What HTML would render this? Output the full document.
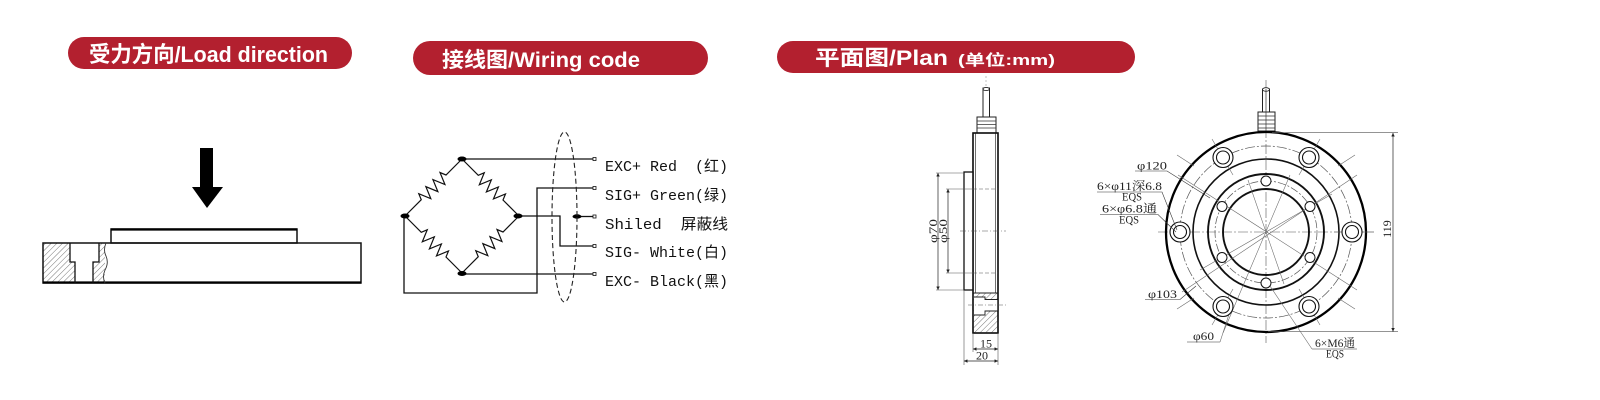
<!DOCTYPE html>
<html><head><meta charset="utf-8">
<style>
html,body{margin:0;padding:0;background:#fff;}
svg{display:block;}
.ht{font-family:"Liberation Sans","Noto Sans CJK SC",sans-serif;font-weight:bold;fill:#fff;}
.wl{font-family:"Liberation Mono","Noto Sans CJK SC",monospace;font-size:15px;fill:#111;white-space:pre;}
.dt{font-family:"Liberation Serif","Noto Serif CJK SC",serif;font-size:12px;fill:#222;}
</style></head><body>
<svg width="1600" height="400" viewBox="0 0 1600 400" xmlns="http://www.w3.org/2000/svg">
<defs>
<pattern id="h" width="4" height="4" patternUnits="userSpaceOnUse" patternTransform="rotate(45)">
<line x1="0" y1="0" x2="0" y2="4" stroke="#555" stroke-width="0.8"/>
</pattern>
<marker id="ar" viewBox="0 0 10 10" refX="10" refY="5" markerWidth="6" markerHeight="3.5" orient="auto-start-reverse" markerUnits="userSpaceOnUse">
<path d="M0,0 L10,5 L0,10 z" fill="#222"/>
</marker>
<path id="zz" d="M0,0 L23,0 L25.5,-6 L30.5,6 L35.5,-6 L40.5,6 L45.5,-6 L50.5,6 L55.5,-6 L58,0 L80.6,0" fill="none" stroke="#111" stroke-width="1.2"/>
</defs>

<!-- Header pills -->
<rect x="68" y="37" width="284" height="32" rx="16" fill="#b3202f"/>
<text class="ht" x="89" y="62" font-size="22" textLength="239" lengthAdjust="spacingAndGlyphs">受力方向/Load direction</text>

<rect x="413" y="41" width="295" height="34" rx="17" fill="#b3202f"/>
<text class="ht" x="442" y="67" font-size="21" textLength="198" lengthAdjust="spacingAndGlyphs">接线图/Wiring code</text>

<rect x="777" y="41" width="358" height="32" rx="16" fill="#b3202f"/>
<text class="ht" x="815" y="65" font-size="21" textLength="133" lengthAdjust="spacingAndGlyphs">平面图/Plan</text>
<text class="ht" x="958" y="65" font-size="15" textLength="97" lengthAdjust="spacingAndGlyphs">(单位:mm)</text>

<!-- Load direction diagram -->
<rect x="200" y="148" width="13" height="40" fill="#000"/>
<polygon points="192,187 223,187 207,208" fill="#000"/>
<rect x="111" y="229" width="186" height="14" fill="#fff" stroke="#111" stroke-width="1.5"/>
<line x1="111" y1="229.5" x2="297" y2="229.5" stroke="#000" stroke-width="2.2"/>
<rect x="43" y="243" width="27" height="40" fill="url(#h)"/>
<rect x="70" y="262" width="5" height="21" fill="url(#h)"/>
<rect x="93" y="262" width="12" height="21" fill="url(#h)"/>
<rect x="99" y="243" width="6" height="19" fill="url(#h)"/>
<rect x="43" y="243" width="318" height="40" fill="none" stroke="#111" stroke-width="1.5"/>
<line x1="43" y1="282.5" x2="361" y2="282.5" stroke="#000" stroke-width="2.2"/>
<path d="M70,243 L70,262 L75,262 L75,283 M93,283 L93,262 L99,262 L99,243" fill="none" stroke="#111" stroke-width="1.3"/>
<path d="M106,243 Q103,250 106,256 Q109,263 105,270 Q102,277 105,283" fill="none" stroke="#333" stroke-width="0.9"/>

<!-- Wiring diagram -->
<g stroke="#111" stroke-width="1.3" fill="none">
<line x1="462" y1="159" x2="593" y2="159"/>
<polyline points="593,188 537,188 537,293 404,293 404,216"/>
<polyline points="518,216 560,216 560,246 593,246"/>
<line x1="577" y1="216.5" x2="593" y2="216.5"/>
<line x1="462" y1="274" x2="593" y2="274"/>
</g>
<use href="#zz" transform="translate(405,216) rotate(-45)"/>
<use href="#zz" transform="translate(462,159) rotate(45)"/>
<use href="#zz" transform="translate(405,216) rotate(45)"/>
<use href="#zz" transform="translate(462,273) rotate(-45)"/>
<g fill="#000">
<ellipse cx="462" cy="159" rx="4.5" ry="2.5"/>
<ellipse cx="405" cy="216" rx="4.5" ry="2.5"/>
<ellipse cx="518" cy="216" rx="4.5" ry="2.5"/>
<ellipse cx="462" cy="273.5" rx="4.5" ry="2.5"/>
<ellipse cx="577" cy="216.5" rx="4.5" ry="2.2"/>
</g>
<ellipse cx="564.5" cy="217" rx="12.5" ry="85" fill="none" stroke="#222" stroke-width="1.1" stroke-dasharray="5,3"/>
<g fill="#fff" stroke="#111" stroke-width="0.8">
<rect x="593" y="157.5" width="3" height="3"/>
<rect x="593" y="186.5" width="3" height="3"/>
<rect x="593" y="215" width="3" height="3"/>
<rect x="593" y="244.5" width="3" height="3"/>
<rect x="593" y="272.5" width="3" height="3"/>
</g>
<text class="wl" x="605" y="171" textLength="123" lengthAdjust="spacingAndGlyphs">EXC+ Red  (红)</text>
<text class="wl" x="605" y="200" textLength="123" lengthAdjust="spacingAndGlyphs">SIG+ Green(绿)</text>
<text class="wl" x="605" y="229" textLength="123" lengthAdjust="spacingAndGlyphs">Shiled  屏蔽线</text>
<text class="wl" x="605" y="257" textLength="123" lengthAdjust="spacingAndGlyphs">SIG- White(白)</text>
<text class="wl" x="605" y="286" textLength="123" lengthAdjust="spacingAndGlyphs">EXC- Black(黑)</text>

<!-- Side view -->
<line x1="986" y1="76" x2="986" y2="86" stroke="#999" stroke-width="0.6" stroke-dasharray="2,2"/>
<rect x="983" y="88" width="6.5" height="29" fill="#fff" stroke="#222" stroke-width="1"/>
<ellipse cx="986.2" cy="89" rx="3.2" ry="1.6" fill="#fff" stroke="#222" stroke-width="0.9"/>
<rect x="977" y="117" width="19" height="16" fill="#fff" stroke="#222" stroke-width="1"/>
<g stroke="#333" stroke-width="0.7">
<line x1="977" y1="121" x2="996" y2="121"/><line x1="977" y1="124.5" x2="996" y2="124.5"/><line x1="977" y1="128" x2="996" y2="128"/>
</g>
<rect x="973" y="133" width="25" height="200" fill="#fff" stroke="#111" stroke-width="1.4"/>
<line x1="975.5" y1="133" x2="975.5" y2="293" stroke="#333" stroke-width="0.7"/>
<line x1="995.5" y1="133" x2="995.5" y2="293" stroke="#333" stroke-width="0.7"/>
<rect x="964" y="172" width="9" height="118" fill="#fff" stroke="#111" stroke-width="1.3"/>
<rect x="973.5" y="293" width="24" height="40" fill="url(#h)"/>
<rect x="974" y="297" width="11" height="18" fill="#fff"/>
<rect x="985" y="299.5" width="12.5" height="11.5" fill="#fff"/>
<path d="M973,293 L998,293 M974,297 L985,297 L985,299.5 L998,299.5 M998,311 L985,311 L985,315 L974,315" fill="none" stroke="#222" stroke-width="0.9"/>
<rect x="973" y="133" width="25" height="200" fill="none" stroke="#111" stroke-width="1.4"/>
<line x1="968" y1="305" x2="1006" y2="305" stroke="#555" stroke-width="0.6" stroke-dasharray="5,2,1,2"/>
<line x1="960" y1="231" x2="1006" y2="231" stroke="#555" stroke-width="0.6" stroke-dasharray="6,2,1,2"/>
<g stroke="#555" stroke-width="0.6">
<line x1="936" y1="173" x2="964" y2="173"/>
<line x1="936" y1="290" x2="964" y2="290"/>
<line x1="946" y1="189" x2="973" y2="189"/>
<line x1="946" y1="273" x2="973" y2="273"/>
<line x1="973" y1="189" x2="998" y2="189" stroke-dasharray="4,2"/>
<line x1="973" y1="273" x2="998" y2="273" stroke-dasharray="4,2"/>
<line x1="964" y1="290" x2="964" y2="365"/>
<line x1="973" y1="333" x2="973" y2="352"/>
<line x1="998" y1="333" x2="998" y2="365"/>
</g>
<g stroke="#222" stroke-width="0.7" marker-start="url(#ar)" marker-end="url(#ar)">
<line x1="938" y1="173" x2="938" y2="290"/>
<line x1="948" y1="189" x2="948" y2="273"/>
<line x1="973" y1="349" x2="998" y2="349"/>
<line x1="964" y1="361" x2="998" y2="361"/>
</g>
<text class="dt" transform="translate(937,231) rotate(-90)" text-anchor="middle" font-size="12" textLength="24" lengthAdjust="spacingAndGlyphs">φ70</text>
<text class="dt" transform="translate(947,231) rotate(-90)" text-anchor="middle" font-size="12" textLength="24" lengthAdjust="spacingAndGlyphs">φ50</text>
<text class="dt" x="986" y="347.5" text-anchor="middle" font-size="12">15</text>
<text class="dt" x="982" y="359.5" text-anchor="middle" font-size="12">20</text>

<!-- Front view -->
<line x1="1266" y1="80" x2="1266" y2="343" stroke="#555" stroke-width="0.6" stroke-dasharray="10,2,2,2"/>
<line x1="1158" y1="232" x2="1374" y2="232" stroke="#555" stroke-width="0.6" stroke-dasharray="10,2,2,2"/>
<rect x="1262.5" y="89" width="7" height="23" fill="#fff" stroke="#222" stroke-width="1"/>
<ellipse cx="1266" cy="89.5" rx="3.5" ry="1.8" fill="#fff" stroke="#222" stroke-width="0.9"/>
<rect x="1258" y="112" width="17" height="19" fill="#fff" stroke="#222" stroke-width="1"/>
<g stroke="#333" stroke-width="0.7">
<line x1="1258" y1="116" x2="1275" y2="116"/><line x1="1258" y1="120" x2="1275" y2="120"/><line x1="1258" y1="124" x2="1275" y2="124"/><line x1="1258" y1="128" x2="1275" y2="128"/>
<line x1="1266" y1="89" x2="1266" y2="131"/>
</g>
<g fill="none">
<circle cx="1266" cy="232" r="100" stroke="#000" stroke-width="2.3"/>
<circle cx="1266" cy="232" r="86" stroke="#555" stroke-width="0.7" stroke-dasharray="10,2,2,2"/>
<circle cx="1266" cy="232" r="73" stroke="#111" stroke-width="1.6"/>
<circle cx="1266" cy="232" r="58" stroke="#111" stroke-width="1.9"/>
<circle cx="1266" cy="232" r="51" stroke="#555" stroke-width="0.7" stroke-dasharray="8,2,2,2"/>
<circle cx="1266" cy="232" r="43" stroke="#111" stroke-width="1.9"/>
</g>
<g stroke="#666" stroke-width="0.55">
<line x1="1178" y1="175" x2="1357" y2="290"/>
<line x1="1182" y1="292" x2="1357" y2="175"/>
<line x1="1223" y1="333" x2="1290" y2="175"/>
<line x1="1248" y1="180" x2="1284" y2="284"/>
<line x1="1200" y1="270" x2="1332" y2="194"/>
<line x1="1268" y1="283" x2="1312" y2="349"/>
<line x1="1220" y1="342" x2="1232" y2="305"/>
</g>
<g stroke="#666" stroke-width="0.55">
<line x1="1334" y1="232" x2="1374" y2="232"/>
<line x1="1299" y1="175" x2="1320" y2="139"/>
<line x1="1233" y1="175" x2="1212" y2="139"/>
<line x1="1233" y1="289" x2="1212" y2="325"/>
<line x1="1299" y1="289" x2="1320" y2="325"/>
<line x1="1338" y1="166" x2="1355" y2="155"/>
<line x1="1194" y1="166" x2="1177" y2="155"/>
<line x1="1194" y1="298" x2="1177" y2="309"/>
<line x1="1338" y1="298" x2="1355" y2="309"/>
</g>
<g fill="#fff" stroke="#111" stroke-width="1.1">
<circle cx="1352" cy="232" r="10"/><circle cx="1352" cy="232" r="6.5"/>
<circle cx="1309" cy="157.5" r="10"/><circle cx="1309" cy="157.5" r="6.5"/>
<circle cx="1223" cy="157.5" r="10"/><circle cx="1223" cy="157.5" r="6.5"/>
<circle cx="1180" cy="232" r="10"/><circle cx="1180" cy="232" r="6.5"/>
<circle cx="1223" cy="306.5" r="10"/><circle cx="1223" cy="306.5" r="6.5"/>
<circle cx="1309" cy="306.5" r="10"/><circle cx="1309" cy="306.5" r="6.5"/>
</g>
<g fill="#fff" stroke="#111" stroke-width="1">
<circle cx="1266" cy="181" r="5"/>
<circle cx="1310" cy="206.5" r="5"/>
<circle cx="1310" cy="257.5" r="5"/>
<circle cx="1266" cy="283" r="5"/>
<circle cx="1222" cy="257.5" r="5"/>
<circle cx="1222" cy="206.5" r="5"/>
</g>
<g stroke="#333" stroke-width="0.6" fill="none">
<polyline points="1135,171 1167,171 1210,198"/>
<polyline points="1097,192 1162,192 1177,230"/>
<polyline points="1100,214.5 1158,214.5 1176,232"/>
<polyline points="1145,299.5 1180,299.5 1196,286"/>
<polyline points="1187,342 1220,342"/>
<polyline points="1312,349 1357,349"/>
</g>
<text class="dt" x="1137" y="169.5" textLength="30" lengthAdjust="spacingAndGlyphs">φ120</text>
<text class="dt" x="1097" y="190" textLength="65" lengthAdjust="spacingAndGlyphs">6×φ11深6.8</text>
<text class="dt" x="1122" y="200.5" textLength="20" lengthAdjust="spacingAndGlyphs">EQS</text>
<text class="dt" x="1102" y="212.5" textLength="55" lengthAdjust="spacingAndGlyphs">6×φ6.8通</text>
<text class="dt" x="1119" y="223.5" textLength="20" lengthAdjust="spacingAndGlyphs">EQS</text>
<text class="dt" x="1148" y="298" textLength="29" lengthAdjust="spacingAndGlyphs">φ103</text>
<text class="dt" x="1193" y="340" textLength="21" lengthAdjust="spacingAndGlyphs">φ60</text>
<text class="dt" x="1315" y="347" textLength="40" lengthAdjust="spacingAndGlyphs">6×M6通</text>
<text class="dt" x="1326" y="357.5" textLength="18" lengthAdjust="spacingAndGlyphs">EQS</text>
<g stroke="#555" stroke-width="0.6">
<line x1="1272" y1="132.7" x2="1398" y2="132.7"/>
<line x1="1268" y1="331.7" x2="1398" y2="331.7"/>
</g>
<line x1="1393" y1="133" x2="1393" y2="331.5" stroke="#222" stroke-width="0.7" marker-start="url(#ar)" marker-end="url(#ar)"/>
<text class="dt" transform="translate(1391,229) rotate(-90)" text-anchor="middle" font-size="12.5">119</text>
</svg>
</body></html>
